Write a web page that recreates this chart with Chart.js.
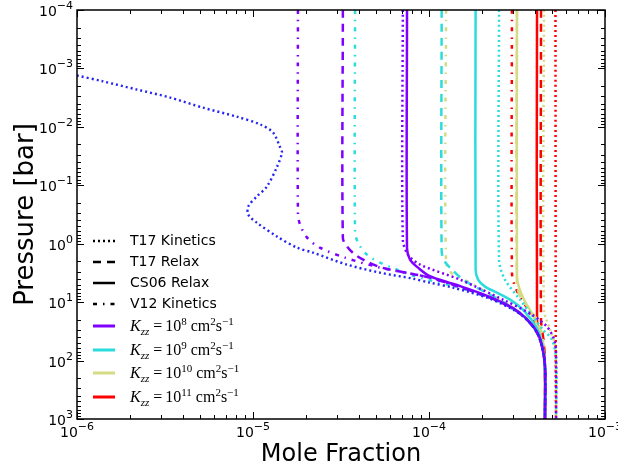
<!DOCTYPE html>
<html>
<head>
<meta charset="utf-8">
<script src="https://cdn.jsdelivr.net/npm/chart.js@4/dist/chart.umd.min.js"></script>
<style>
  html, body { margin: 0; padding: 0; background: #fff; }
</style>
</head>
<body>
<canvas id="chart" width="618" height="472"></canvas>
<script>
// axis ranges (mole fraction, pressure in bar)
const xRange = [1e-6, 1e-3];
const yRange = [1e-4, 1e3];
// tick labels: powers of ten
const xDecades = [-6, -5, -4, -3];
const yDecades = [-4, -3, -2, -1, 0, 1, 2, 3];

// legend text
const modelNames = ['T17 Kinetics', 'T17 Relax', 'CS06 Relax', 'V12 Kinetics'];
const kzzExponents = ['8', '9', '10', '11'];
const kzzColors = ['#8000ff', '#2bdcdc', '#d5da84', '#ff0000'];

// every curve is a list of [mole fraction, pressure]
const blueKinetics = [[1.0e-6, 1.32e-3], [1.41e-6, 1.67e-3], [2.19e-6, 2.3e-3], [3.38e-6, 3.15e-3], [5.2e-6, 4.7e-3],
    [8.1e-6, 6.7e-3], [1.1e-5, 9.1e-3], [1.3e-5, 1.25e-2], [1.42e-5, 2.17e-2], [1.46e-5, 2.75e-2], [1.37e-5, 4.8e-2],
    [1.2e-5, 0.105], [1.05e-5, 0.156], [9.4e-6, 0.23], [9.4e-6, 0.318], [1.05e-5, 0.435], [1.37e-5, 0.755],
    [1.78e-5, 1.17], [2.19e-5, 1.42], [3.42e-5, 2.28], [5.27e-5, 3.13], [8.1e-5, 3.96], [1.01e-4, 4.63],
    [1.37e-4, 5.65], [2.14e-4, 8.4], [3.0e-4, 13.4], [3.6e-4, 20], [4.1e-4, 33], [4.39e-4, 57.8], [4.56e-4, 126], [4.56e-4, 1000]];

const k8Kinetics = [[7.1e-5, 1e-4], [7.1e-5, 0.85], [7.6e-5, 1.54], [8.9e-5, 2.28], [1.5e-4, 4.12], [2.63e-4, 9.06],
    [3.75e-4, 15.7], [4.68e-4, 26.3], [5.2e-4, 49.3], [5.27e-4, 143], [5.27e-4, 1000]];
const k8Relax = [[3.24e-5, 1e-4], [3.24e-5, 0.8], [3.42e-5, 1.12], [3.8e-5, 1.54], [4.44e-5, 2.03], [5.4e-5, 2.57],
    [6.84e-5, 3.0], [1.01e-4, 3.8], [1.41e-4, 5.2], [2.14e-4, 8.05], [3.0e-4, 12.9], [3.6e-4, 20], [4.1e-4, 33],
    [4.39e-4, 57.8], [4.56e-4, 126], [4.56e-4, 1000]];
const k8Cs06 = [[7.5e-5, 1e-4], [7.5e-5, 1.2], [7.8e-5, 1.87], [8.66e-5, 2.57], [1.01e-4, 3.6], [1.41e-4, 5.0],
    [2.14e-4, 7.8], [3.0e-4, 12.6], [3.6e-4, 19.5], [4.1e-4, 32], [4.39e-4, 56], [4.56e-4, 126], [4.56e-4, 1000]];
const k8V12 = [[1.8e-5, 1e-4], [1.8e-5, 0.3], [1.85e-5, 0.47], [2.03e-5, 0.787], [2.4e-5, 1.17], [3.33e-5, 1.73],
    [5.27e-5, 2.57], [6.84e-5, 3.0], [1.01e-4, 3.8], [1.41e-4, 5.2], [2.14e-4, 8.05], [3.0e-4, 12.9], [3.6e-4, 20],
    [4.1e-4, 33], [4.39e-4, 57.8], [4.56e-4, 126], [4.56e-4, 1000]];

const k9Kinetics = [[2.5e-4, 1e-4], [2.5e-4, 1.87], [2.7e-4, 4.12], [3.29e-4, 9.06], [3.9e-4, 17.7], [4.44e-4, 29.6],
    [5.0e-4, 43.9], [5.27e-4, 96.6], [5.27e-4, 1000]];
const k9Relax = [[1.18e-4, 1e-4], [1.18e-4, 1.35], [1.23e-4, 2.03], [1.35e-4, 2.78], [1.56e-4, 4.12], [1.87e-4, 5.65],
    [2.22e-4, 7.45], [3.0e-4, 12.6], [3.6e-4, 19.8], [4.1e-4, 33], [4.39e-4, 57.8], [4.56e-4, 126], [4.56e-4, 1000]];
const k9Cs06 = [[1.84e-4, 1e-4], [1.84e-4, 2.7], [1.9e-4, 4.12], [2.08e-4, 5.43], [2.43e-4, 6.88], [2.89e-4, 9.06],
    [3.5e-4, 14.5], [4.1e-4, 28], [4.39e-4, 52], [4.56e-4, 120], [4.56e-4, 1000]];
const k9V12 = [[3.8e-5, 1e-4], [3.8e-5, 0.62], [3.95e-5, 0.957], [4.44e-5, 1.54], [5.27e-5, 2.11], [6.58e-5, 2.78],
    [8.1e-5, 3.52], [1.01e-4, 4.2], [1.41e-4, 5.4], [2.14e-4, 8.2], [3.0e-4, 13], [3.6e-4, 20], [4.1e-4, 33],
    [4.39e-4, 57.8], [4.56e-4, 126], [4.56e-4, 1000]];

const k10Kinetics = [[4.5e-4, 1e-4], [4.5e-4, 13.4], [4.87e-4, 29.6], [5.2e-4, 53.4], [5.27e-4, 143], [5.27e-4, 1000]];
const k10Relax = [[3.16e-4, 1e-4], [3.16e-4, 5.0], [3.33e-4, 8.4], [3.75e-4, 13.4], [4.16e-4, 21.6], [4.39e-4, 36],
    [4.5e-4, 70], [4.56e-4, 150], [4.56e-4, 1000]];
const k10Cs06 = [[3.16e-4, 1e-4], [3.16e-4, 3.66], [3.25e-4, 5.65], [3.51e-4, 9.8], [3.85e-4, 15.7], [4.11e-4, 24.3],
    [4.33e-4, 40.5], [4.5e-4, 90], [4.56e-4, 180], [4.56e-4, 1000]];
const k10V12 = [[1.25e-4, 1e-4], [1.25e-4, 2.11], [1.37e-4, 3.38], [1.71e-4, 4.63], [2.14e-4, 6.88], [2.63e-4, 9.8],
    [3.2e-4, 14], [3.7e-4, 20.5], [4.1e-4, 33], [4.39e-4, 57.8], [4.56e-4, 126], [4.56e-4, 1000]];

const k11Kinetics = [[5.23e-4, 1e-4], [5.25e-4, 100], [5.27e-4, 1000]];
const k11Relax = [[4.33e-4, 1e-4], [4.33e-4, 20], [4.5e-4, 53], [4.56e-4, 212], [4.56e-4, 1000]];
const k11Cs06 = [[4.11e-4, 1e-4], [4.11e-4, 20], [4.27e-4, 36], [4.5e-4, 65], [4.56e-4, 143], [4.56e-4, 1000]];
const k11V12 = [[2.96e-4, 1e-4], [2.96e-4, 3.13], [3.08e-4, 5.43], [3.29e-4, 8.05], [3.65e-4, 13.4], [3.9e-4, 20],
    [4.16e-4, 32], [4.39e-4, 57.8], [4.56e-4, 126], [4.56e-4, 1000]];

// rows = Kzz, columns = model (same order as modelNames)
const curves = [
    [k8Kinetics, k8Relax, k8Cs06, k8V12],
    [k9Kinetics, k9Relax, k9Cs06, k9V12],
    [k10Kinetics, k10Relax, k10Cs06, k10V12],
    [k11Kinetics, k11Relax, k11Cs06, k11V12]
];

const modelDashes = [[2, 3], [8, 6], [], [4, 6, 1.5, 6]];

function toPoints(arr) {
    return arr.map(p => ({x: p[0], y: p[1]}));
}

const datasets = [{
    label: 'blue',
    data: toPoints(blueKinetics),
    borderColor: '#2424f4',
    borderDash: modelDashes[0],
    borderWidth: 2.4
}];
curves.forEach((row, i) => {
    row.forEach((arr, j) => {
        datasets.push({
            label: modelNames[j] + ' ' + kzzExponents[i],
            data: toPoints(arr),
            borderColor: kzzColors[i],
            borderDash: modelDashes[j],
            borderWidth: 2.5
        });
    });
});

// "10" with a raised exponent, like the matplotlib labels
function drawPow(ctx, x, baseline, exp, align) {
    const e = String(exp).replace('-', '\u2212');
    ctx.font = '14px "DejaVu Sans"';
    const w10 = ctx.measureText('10').width;
    ctx.font = '11px "DejaVu Sans"';
    const we = ctx.measureText(e).width;
    let sx = align === 'right' ? x - w10 - we : x - (w10 + we) / 2;
    ctx.textAlign = 'left';
    ctx.textBaseline = 'alphabetic';
    ctx.font = '14px "DejaVu Sans"';
    ctx.fillText('10', sx, baseline);
    ctx.font = '11px "DejaVu Sans"';
    ctx.fillText(e, sx + w10, baseline - 7);
}

// math style legend label: K_zz = 10^n cm^2 s^-1
function drawKzz(ctx, x, y, exp) {
    const serif = '"Liberation Serif", "DejaVu Serif", serif';
    const parts = [
        ['italic 16px ' + serif, 'K', 0],
        ['italic 11px ' + serif, 'zz', 4],
        ['16px ' + serif, ' =', 0],
        ['16px ' + serif, '10', 0],
        ['11px ' + serif, exp, -6],
        ['16px ' + serif, ' cm', 0],
        ['11px ' + serif, '2', -6],
        ['16px ' + serif, 's', 0],
        ['11px ' + serif, '\u22121', -6]
    ];
    ctx.textBaseline = 'alphabetic';
    ctx.textAlign = 'left';
    parts.forEach(p => {
        ctx.font = p[0];
        ctx.fillText(p[1], x, y + 5 + p[2]);
        x += ctx.measureText(p[1]).width + (p[1] === ' =' ? 3 : 0);
    });
}

const decorations = {
    id: 'decorations',
    afterDraw(chart) {
        const {ctx, chartArea: a, scales: {x, y}} = chart;
        ctx.save();
        ctx.strokeStyle = '#000';
        ctx.fillStyle = '#000';
        ctx.lineWidth = 1;
        ctx.setLineDash([]);
        function seg(x1, y1, x2, y2) {
            ctx.beginPath();
            ctx.moveTo(x1, y1);
            ctx.lineTo(x2, y2);
            ctx.stroke();
        }
        // inward ticks on all four sides
        xDecades.forEach(e => {
            for (let m = 1; m < 10; m++) {
                const v = m * Math.pow(10, e);
                if (v > xRange[1] * 1.001) continue;
                const px = Math.round(x.getPixelForValue(v)) + 0.5;
                const len = m === 1 ? 7 : 4;
                seg(px, a.bottom, px, a.bottom - len);
                seg(px, a.top, px, a.top + len);
            }
            drawPow(ctx, x.getPixelForValue(Math.pow(10, e)), a.bottom + 18, e, 'center');
        });
        yDecades.forEach(e => {
            for (let m = 1; m < 10; m++) {
                const v = m * Math.pow(10, e);
                if (v > yRange[1] * 1.001) continue;
                const py = Math.round(y.getPixelForValue(v)) + 0.5;
                const len = m === 1 ? 7 : 4;
                seg(a.left, py, a.left + len, py);
                seg(a.right, py, a.right - len, py);
            }
            drawPow(ctx, a.left - 4, y.getPixelForValue(Math.pow(10, e)) + 6, e, 'right');
        });
        ctx.lineWidth = 1.5;
        ctx.strokeRect(a.left, a.top, a.right - a.left, a.bottom - a.top);

        // legend
        const lx = a.left + 16;
        const rows = [241, 262, 283, 304, 326, 350, 373, 397];
        modelNames.forEach((name, j) => {
            const ry = rows[j];
            ctx.strokeStyle = '#000';
            ctx.lineWidth = 2.5;
            ctx.setLineDash(modelDashes[j]);
            seg(lx, ry, lx + 22, ry);
            ctx.setLineDash([]);
            ctx.font = '14px "DejaVu Sans"';
            ctx.textBaseline = 'middle';
            ctx.textAlign = 'left';
            ctx.fillText(name, lx + 37, ry);
        });
        kzzExponents.forEach((exp, i) => {
            const ry = rows[4 + i];
            ctx.strokeStyle = kzzColors[i];
            ctx.lineWidth = 3;
            seg(lx, ry, lx + 22, ry);
            drawKzz(ctx, lx + 37, ry, exp);
        });
        ctx.restore();
    }
};

new Chart(document.getElementById('chart'), {
    type: 'scatter',
    data: {datasets: datasets},
    options: {
        responsive: false,
        animation: false,
        showLine: true,
        layout: {padding: {top: 10, right: 13, left: 0, bottom: 0}},
        elements: {
            point: {radius: 0, hoverRadius: 0},
            line: {tension: 0.3, fill: false, borderCapStyle: 'butt'}
        },
        plugins: {legend: {display: false}, tooltip: {enabled: false}},
        scales: {
            x: {
                type: 'logarithmic',
                min: xRange[0],
                max: xRange[1],
                grid: {display: false, drawTicks: false},
                border: {display: false},
                ticks: {display: false},
                title: {display: true, text: 'Mole Fraction', color: '#000',
                    font: {family: 'DejaVu Sans', size: 24}, padding: {bottom: 3}},
                afterFit: s => { s.height = 53; }
            },
            y: {
                type: 'logarithmic',
                reverse: true,
                min: yRange[0],
                max: yRange[1],
                grid: {display: false, drawTicks: false},
                border: {display: false},
                ticks: {display: false},
                title: {display: true, text: 'Pressure [bar]', color: '#000',
                    font: {family: 'DejaVu Sans', size: 26}, padding: {top: 11}},
                afterFit: s => { s.width = 77; }
            }
        }
    },
    plugins: [decorations]
});
</script>
</body>
</html>
